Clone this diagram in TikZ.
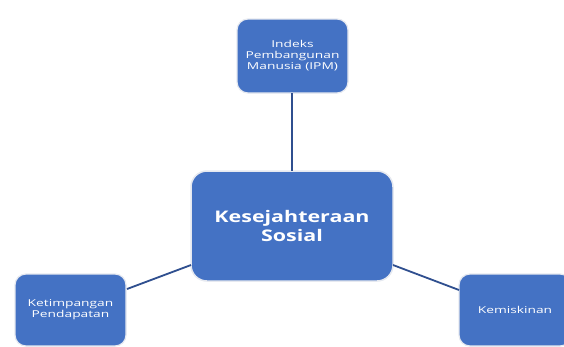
\documentclass[tikz,border=0pt]{standalone}
\usepackage{fontspec}
\setmainfont{Open Sans}
\newfontfamily\widesmall[FakeStretch=1.45]{Open Sans}
\newfontfamily\widebig[FakeStretch=1.34]{Open Sans}
\definecolor{boxfill}{HTML}{4472C4}
\definecolor{boxedge}{HTML}{E6E9F0}
\definecolor{linkcol}{HTML}{2F4F8F}
\begin{document}
\begin{tikzpicture}[x=1pt,y=-1pt,
  boxsmall/.style={draw=boxedge,line width=1.2pt,fill=boxfill,rounded corners=11pt,
    text=white,align=center,font=\widesmall\fontsize{9.5}{11}\selectfont,inner sep=0pt},
  boxbig/.style={draw=boxedge,line width=1.5pt,fill=boxfill,rounded corners=16pt,
    text=white,align=center,font=\widebig\fontsize{16}{19}\selectfont\bfseries,inner sep=0pt},
  link/.style={draw=linkcol,line width=1.8pt}]
\useasboundingbox (0,0) rectangle (564,346);
\clip (0,0) rectangle (564,346);
\fill[white] (0,0) rectangle (564,346);
\node[boxbig, minimum width=202pt, minimum height=110pt] (ks) at (292,226) {Kesejahteraan\\Sosial};
\node[boxsmall, minimum width=111pt, minimum height=74pt] (ipm) at (292.5,56) {Indeks\\Pembangunan\\Manusia (IPM)};
\node[boxsmall, minimum width=111pt, minimum height=72pt] (kp) at (70.5,310) {Ketimpangan\\Pendapatan};
\node[boxsmall, minimum width=112pt, minimum height=72pt] (km) at (515,310) {Kemiskinan};
\coordinate (a1) at (292,93);
\coordinate (a2) at (292,171);
\coordinate (b1) at (127,289);
\coordinate (b2) at (191,265);
\coordinate (c1) at (393,265);
\coordinate (c2) at (459,290);
\draw[link] (a1) -- (a2);
\draw[link] (b1) -- (b2);
\draw[link] (c1) -- (c2);
\end{tikzpicture}
\end{document}
